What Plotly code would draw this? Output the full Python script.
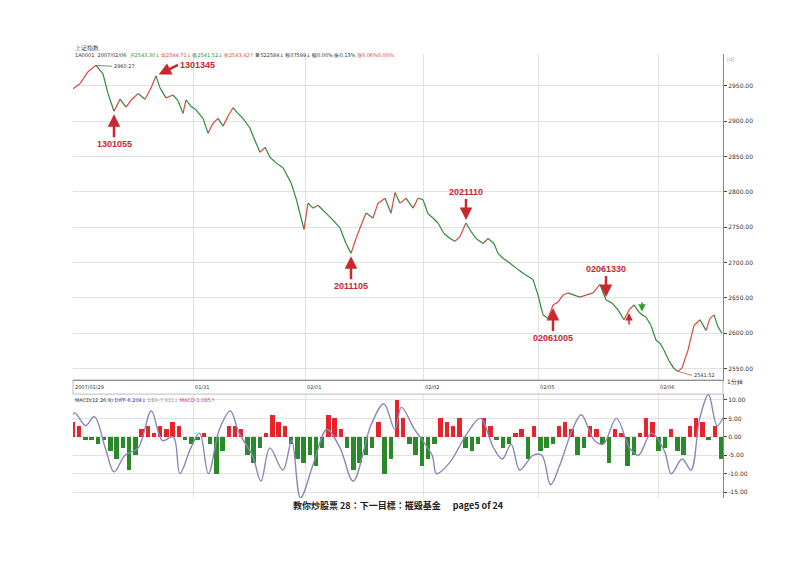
import plotly.graph_objects as go

# price path: (bar index, price)
price_bar = [0,7,15,23,30,35,41,47,53,59,65,72,78,83,87,93,100,105,110,113,118,123,130,135,140,145,150,155,160,165,170,177,183,187,192,197,203,210,218,223,227,231,235,240,245,253,260,267,273,278,283,287,293,300,305,312,318,322,327,333,340,345,350,355,360,365,371,377,382,387,393,398,403,410,415,421,425,430,437,445,452,460,465,470,475,480,485,490,495,501,507,513,520,527,533,539,545,551,556,561,566,569,573,578,583,587,591,596,601,605,609,615,621,627,633,637,641,645,649]
price_val = [2946,2953,2970,2979,2967,2939,2914,2931,2920,2931,2939,2931,2947,2964,2947,2933,2937,2929,2911,2930,2921,2916,2904,2883,2897,2904,2893,2907,2919,2911,2904,2890,2869,2856,2863,2849,2841,2834,2813,2791,2769,2747,2784,2777,2781,2770,2760,2749,2727,2713,2734,2749,2770,2763,2784,2791,2770,2799,2784,2791,2777,2791,2789,2769,2763,2756,2741,2734,2730,2737,2756,2744,2734,2727,2734,2727,2713,2706,2699,2690,2683,2676,2654,2626,2621,2640,2644,2654,2657,2654,2651,2654,2657,2669,2647,2643,2633,2619,2633,2640,2630,2626,2623,2611,2590,2586,2576,2561,2550,2546,2551,2576,2611,2619,2604,2621,2626,2609,2600]

# MACD histogram (one value per ~6.5 bars)
hist_vals = [4,3,-1,-1,-2,-1,-4,-6,-3,-9,-5,2,3,1,3,2,4,3,-1,-2,-1,1,-2,-10,-4,3,3,2,-5,-7,-3,1,6,4,3,-2,-6,-7,-5,-8,-3,6,5,2,-3,-9,-7,-5,-3,4,-10,-6,10,5,-2,-5,-8,-6,-2,5,4,3,5,-3,-4,-2,5,3,-1,-3,-2,1,2,-6,3,-4,-3,-2,3,4,2,-5,-3,3,2,-2,-7,2,1,-8,-5,1,5,4,-4,-3,2,-4,-5,3,5,4,-1,3,-6]
diff_zx = [0,15,40,60,85,105,130,160,190,215,240,255,280,300,320,345,370,390,420,440,460,490,510,530,560,590,620,650,690,720,745,760,790,830,840,870,910,940,970,990,1010,1030,1060,1080,1100,1120,1150,1170,1200,1220,1250,1280,1300,1330,1360,1375,1400,1420,1440,1460,1480,1500,1520]
diff_val = [2,6.5,3,5.5,-3,-9.5,-5,-3,7,-1,0,-10,-3,1,-10,2,7,1,-5,-12,-3,-9,-1,-16.5,-7,2,-3,-12,3,9,2,8,2,-5,-10,-7,1,5,-3,-6,-2,-9,-5,-5,-13,-8,2,6,-1,-2,5,-3,-5,1,-4,-10,-6,-9,5,11.5,3,6,-6]

date_ticks = [0,120,232,350,465,585]
date_labels = ["2007/01/29","01/31","02/01","02/02","02/05","02/06"]
price_ticks = [2550,2600,2650,2700,2750,2800,2850,2900,2950]
macd_ticks = [-15,-10,-5,0,5,10]

fig = go.Figure()
rx, ry, gx, gy = [], [], [], []
for i in range(1, len(price_bar)):
    seg_x = [price_bar[i-1], price_bar[i], None]
    seg_y = [price_val[i-1], price_val[i], None]
    if price_val[i] >= price_val[i-1]:
        rx += seg_x; ry += seg_y
    else:
        gx += seg_x; gy += seg_y
fig.add_trace(go.Scatter(x=rx, y=ry, mode="lines", line=dict(color="#e0463c", width=1.2), xaxis="x", yaxis="y"))
fig.add_trace(go.Scatter(x=gx, y=gy, mode="lines", line=dict(color="#2e8b3a", width=1.2), xaxis="x", yaxis="y"))

N = len(hist_vals)
span = 648
hx = [i * span / (N - 1) for i in range(N)]
fig.add_trace(go.Bar(x=hx, y=hist_vals, marker_color=["#e8232a" if v > 0 else "#2a8a2a" for v in hist_vals],
                     marker_line_width=0, width=4.5, xaxis="x2", yaxis="y2"))
dx = [z * 680 / 1550 - 5 for z in diff_zx]
fig.add_trace(go.Scatter(x=dx, y=diff_val, mode="lines", line=dict(color="#8888bb", width=1.4, shape="spline"), xaxis="x2", yaxis="y2"))

grid = "#e2e2e2"
fig.update_layout(
    width=800, height=566, showlegend=False, plot_bgcolor="white", paper_bgcolor="white",
    margin=dict(l=65, r=85, t=46, b=76), bargap=0,
    font=dict(family="DejaVu Sans", size=6, color="#333"),
    xaxis=dict(domain=[0, 1], range=[0, 650], anchor="y", tickvals=date_ticks, showticklabels=False,
               showgrid=True, gridcolor=grid, zeroline=False, showline=True, linecolor="#888", mirror=False),
    yaxis=dict(domain=[0.266, 1], range=[2534, 2995], side="right", tickvals=price_ticks,
               ticktext=[f"{v}.00" for v in price_ticks], showgrid=True, gridcolor=grid, zeroline=False,
               showline=True, linecolor="#888", ticks="outside", ticklen=3),
    xaxis2=dict(domain=[0, 1], range=[0, 650], anchor="y2", tickvals=date_ticks, showticklabels=False,
                showgrid=True, gridcolor=grid, zeroline=False),
    yaxis2=dict(domain=[0, 0.234], range=[-16.6, 11.6], side="right", tickvals=macd_ticks,
                ticktext=[f"{v}.00" for v in macd_ticks], showgrid=True, gridcolor=grid, zeroline=False,
                showline=True, linecolor="#888", ticks="outside", ticklen=3),
)
for t, l in zip(date_ticks, date_labels):
    fig.add_annotation(x=t, xref="x", y=0.262, yref="paper", text=l, showarrow=False, xanchor="left", yanchor="top", font=dict(size=5))
fig.add_annotation(x=1.003, xref="paper", y=0.25, yref="paper", text="1分鐘", showarrow=False, xanchor="left", font=dict(size=6))
fig.add_shape(type="rect", xref="paper", yref="paper", x0=0, x1=1, y0=0.234, y1=0.266, line=dict(color="#aaa", width=0.8))

fig.add_annotation(x=0, xref="paper", y=1.028, yref="paper", text="上证指数", showarrow=False, xanchor="left", font=dict(size=6))
fig.add_annotation(x=0, xref="paper", y=1.008, yref="paper",
    text="1A0001  2007/02/06  <span style='color:#2e8b3a'>开2543.30↓</span> <span style='color:#e0463c'>高2544.71↓</span> <span style='color:#2e8b3a'>低2541.52↓</span> <span style='color:#e0463c'>收2543.42↑</span> 量522584↓ 额07599↓ 幅0.00% 振0.13% <span style='color:#e0463c'>涨0.06%0.00%</span>",
    showarrow=False, xanchor="left", font=dict(size=5))
fig.add_annotation(x=0, xref="paper", y=0.232, yref="paper",
    text="MACD(12,26,9) <span style='color:#3333aa'>DIFF-6.204↓</span> <span style='color:#999'>DEA-7.911↓</span> <span style='color:#c03090'>MACD-1.085↑</span>",
    showarrow=False, xanchor="left", yanchor="top", font=dict(size=5))
fig.add_annotation(x=1.003, xref="paper", y=1.0, yref="paper", text="[d]", showarrow=False, xanchor="left", font=dict(size=5, color="#999"))
fig.add_annotation(x=price_bar[3], y=price_val[3], text="2960.27", showarrow=True, arrowhead=0, ax=16, ay=1,
                   arrowcolor="#555", arrowwidth=0.7, font=dict(size=5), xanchor="left", yanchor="middle")
imin = price_val.index(min(price_val))
fig.add_annotation(x=price_bar[imin], y=price_val[imin], text="2541.52", showarrow=True, arrowhead=0, ax=14, ay=4,
                   arrowcolor="#c33", arrowwidth=0.7, font=dict(size=5), xanchor="left")

red = "#c8282e"
def mark(i, text, below):
    fig.add_annotation(x=price_bar[i], y=price_val[i], text=f"<b>{text}</b>", showarrow=True, arrowhead=2, arrowsize=1,
                       arrowwidth=2.5, arrowcolor=red, ax=0, ay=(26 if below else -24), standoff=3,
                       font=dict(size=9, color=red, family="Liberation Sans"), yanchor=("top" if below else "bottom"))
mark(6, "1301055", True)
fig.add_annotation(x=price_bar[13], y=price_val[13], text="<b>1301345</b>", showarrow=True, arrowhead=2, arrowwidth=2.5,
                   arrowcolor=red, ax=22, ay=-11, standoff=3, xanchor="left", yanchor="middle", font=dict(size=9, color=red, family="Liberation Sans"))
mark(49, "2011105", True)
mark(price_bar.index(393), "2021110", False)
mark(price_bar.index(480), "02061005", True)
mark(price_bar.index(533), "02061330", False)
i5 = price_bar.index(556)
fig.add_annotation(x=price_bar[i5], y=price_val[i5], text="", showarrow=True, arrowhead=2, arrowwidth=1.5, arrowcolor=red, ax=0, ay=16, standoff=3)
i6 = price_bar.index(569)
fig.add_annotation(x=price_bar[i6], y=price_val[i6], text="", showarrow=True, arrowhead=2, arrowwidth=1.5, arrowcolor="#3a9a3a", ax=0, ay=-14, standoff=3)

fig.add_annotation(x=0.5, xref="paper", y=-0.018, yref="paper", yanchor="middle",
                   text="<b>教你炒股票 28：下一目標：摧毀基金</b>      <b>page5 of 24</b>", showarrow=False,
                   font=dict(size=9, color="#222", family="Noto Sans CJK TC"))
fig.write_html("out.html")
